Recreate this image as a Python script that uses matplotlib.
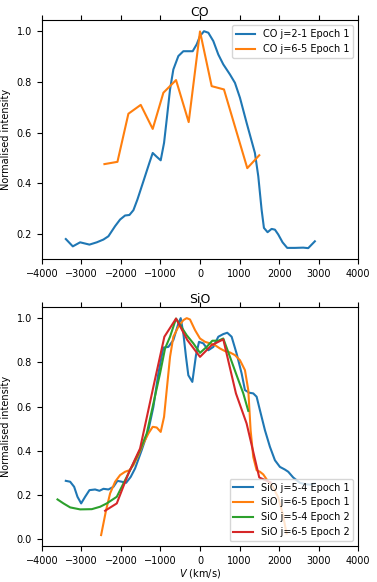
import numpy as np
import matplotlib
matplotlib.use("Agg")
import matplotlib.pyplot as plt

# CO j=2-1 Epoch 1
co21_v = [-3394, -3217, -3032, -2796, -2611, -2442, -2316, -2147, -2021, -1895,
          -1785, -1684, -1583, -1432, -1280, -1196, -1095, -994, -909, -842,
          -758, -674, -547, -421, -295, -185, -84, 0, 101, 211, 337, 463, 589,
          758, 884, 1011, 1179, 1389, 1474, 1558, 1617, 1709, 1811, 1895, 1979,
          2088, 2206, 2400, 2611, 2737, 2905]
co21_i = [0.180, 0.151, 0.167, 0.158, 0.167, 0.178, 0.191, 0.231, 0.257, 0.273,
          0.275, 0.294, 0.336, 0.408, 0.481, 0.520, 0.505, 0.491, 0.560, 0.652,
          0.771, 0.850, 0.903, 0.922, 0.922, 0.922, 0.949, 0.982, 1.001, 0.995,
          0.962, 0.909, 0.870, 0.830, 0.797, 0.738, 0.639, 0.520, 0.428, 0.296,
          0.224, 0.207, 0.220, 0.217, 0.198, 0.167, 0.145, 0.145, 0.146, 0.144,
          0.171]

# CO j=6-5 Epoch 1
co65_v = [-2417, -2088, -1811, -1499, -1196, -926, -606, -286, 0, 295, 606, 1196, 1499]
co65_i = [0.476, 0.485, 0.675, 0.710, 0.615, 0.758, 0.808, 0.642, 1.0, 0.784, 0.771, 0.460, 0.511]

# SiO j=5-4 Epoch 1
sio54a_v = [-3394, -3284, -3183, -3099, -3006, -2905, -2796, -2653, -2543, -2442,
            -2316, -2189, -2088, -1979, -1869, -1752, -1642, -1474, -1305, -1179,
            -1053, -926, -800, -674, -547, -488, -421, -354, -295, -194, -101,
            -25, 84, 211, 337, 463, 589, 690, 800, 926, 1053, 1137, 1246, 1347,
            1432, 1516, 1642, 1768, 1895, 2021, 2147, 2232, 2358, 2526, 2653,
            2779, 2905]
sio54a_i = [0.265, 0.261, 0.238, 0.193, 0.163, 0.193, 0.223, 0.226, 0.220, 0.229,
            0.226, 0.238, 0.265, 0.261, 0.256, 0.283, 0.321, 0.404, 0.494, 0.599,
            0.750, 0.867, 0.870, 0.901, 0.976, 1.0, 0.931, 0.825, 0.742, 0.712,
            0.833, 0.893, 0.886, 0.855, 0.870, 0.916, 0.928, 0.934, 0.916, 0.840,
            0.750, 0.675, 0.663, 0.660, 0.645, 0.584, 0.494, 0.419, 0.358, 0.328,
            0.316, 0.306, 0.280, 0.256, 0.250, 0.248, 0.253]

# SiO j=6-5 Epoch 1
sio65a_v = [-2501, -2375, -2274, -2147, -2021, -1895, -1785, -1684, -1558, -1432,
            -1305, -1196, -1095, -994, -909, -842, -758, -674, -547, -421, -337,
            -253, -126, 0, 126, 253, 379, 505, 632, 758, 884, 1011, 1137, 1221,
            1280, 1347, 1432, 1516, 1600, 1700, 1850, 1979, 2100, 2189]
sio65a_i = [0.020, 0.133, 0.208, 0.261, 0.291, 0.306, 0.313, 0.336, 0.381, 0.434,
            0.479, 0.509, 0.506, 0.486, 0.554, 0.675, 0.825, 0.916, 0.961, 0.991,
            1.0, 0.994, 0.946, 0.908, 0.893, 0.886, 0.878, 0.863, 0.851, 0.845,
            0.833, 0.810, 0.765, 0.675, 0.494, 0.373, 0.313, 0.306, 0.294, 0.268,
            0.235, 0.190, 0.110, 0.027]

# SiO j=5-4 Epoch 2
sio54b_v = [-3604, -3453, -3284, -3032, -2737, -2526, -2358, -2105, -1937, -1768,
            -1516, -1347, -1179, -1011, -884, -758, -606, -337, -168, 0, 168,
            312, 463, 589, 758, 926, 1095, 1221]
sio54b_i = [0.181, 0.163, 0.145, 0.136, 0.137, 0.148, 0.163, 0.193, 0.253, 0.313,
            0.404, 0.479, 0.614, 0.750, 0.863, 0.916, 0.998, 0.923, 0.886, 0.843,
            0.870, 0.898, 0.898, 0.908, 0.825, 0.742, 0.660, 0.581]

# SiO j=6-5 Epoch 2
sio65b_v = [-2400, -2105, -1811, -1516, -1179, -901, -606, -320, 0, 295, 589, 909, 1179, 1499, 1785]
sio65b_i = [0.130, 0.163, 0.298, 0.411, 0.690, 0.916, 0.998, 0.901, 0.825, 0.878, 0.904, 0.660, 0.524, 0.280, 0.258]

plt.rcParams['font.size'] = 7

fig = plt.figure(figsize=(3.77, 5.82), dpi=100)
ax1 = fig.add_axes([0.111, 0.555, 0.839, 0.410])
ax2 = fig.add_axes([0.111, 0.062, 0.839, 0.410])

ax1.plot(co21_v, co21_i, label="CO j=2-1 Epoch 1")
ax1.plot(co65_v, co65_i, label="CO j=6-5 Epoch 1")
ax1.set_xlim(-4000, 4000)
ax1.set_yticks([0.2, 0.4, 0.6, 0.8, 1.0])
ax1.set_title("CO", fontsize=9, pad=3)
ax1.set_ylabel("Normalised intensity")
ax1.legend(loc="upper right", fontsize=7)

ax2.plot(sio54a_v, sio54a_i, label="SiO j=5-4 Epoch 1")
ax2.plot(sio65a_v, sio65a_i, label="SiO j=6-5 Epoch 1")
ax2.plot(sio54b_v, sio54b_i, label="SiO j=5-4 Epoch 2")
ax2.plot(sio65b_v, sio65b_i, label="SiO j=6-5 Epoch 2")
ax2.set_xlim(-4000, 4000)
ax2.set_title("SiO", fontsize=9, pad=3)
ax2.set_ylabel("Normalised intensity")
ax2.set_xlabel("$V$ (km/s)", labelpad=1)
ax2.legend(loc="lower right", fontsize=7)

for ax in (ax1, ax2):
    ax.tick_params(axis="x", top=True, labelsize=7)
    ax.tick_params(axis="y", labelsize=7)

fig.savefig("out.png", dpi=100)
